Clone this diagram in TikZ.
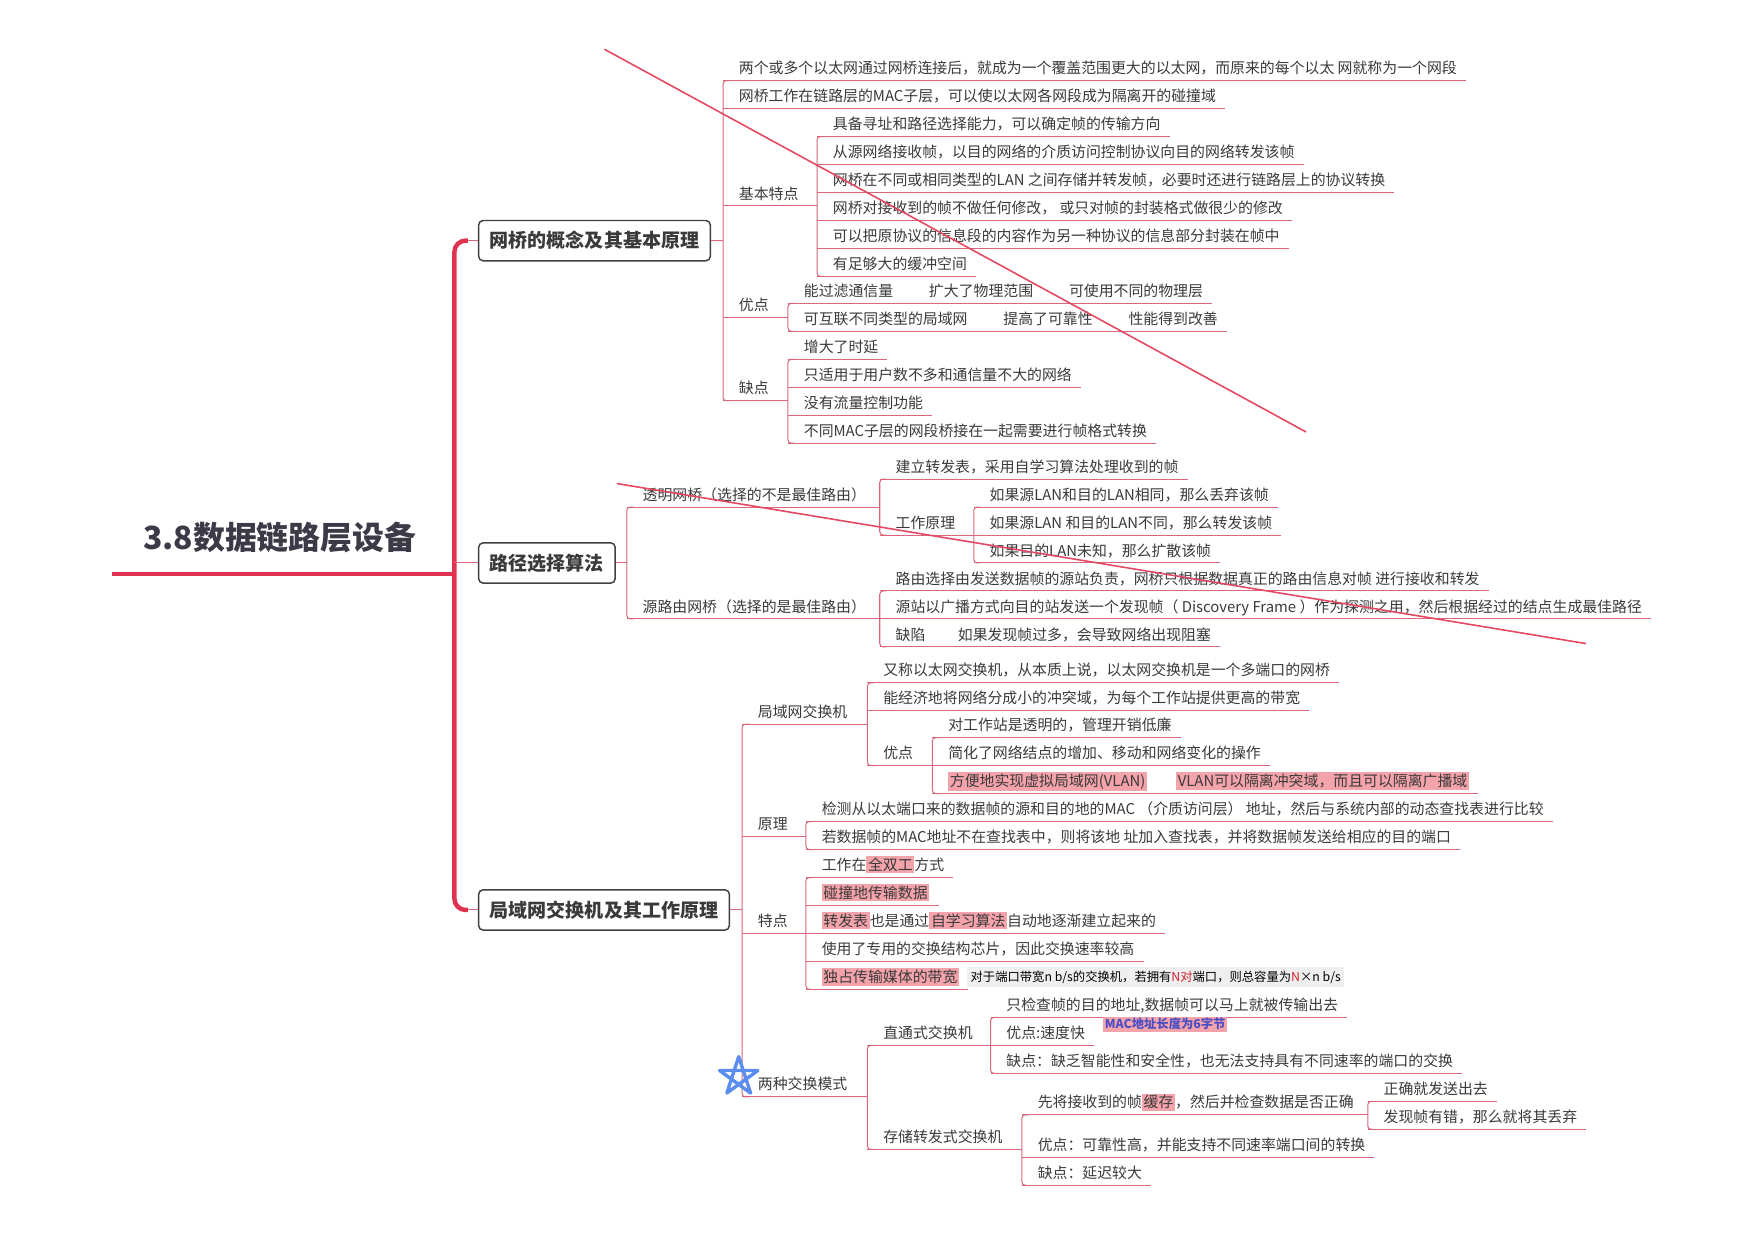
\documentclass[tikz,border=0pt]{standalone}
\usepackage{fontspec}
\setmainfont{Noto Sans CJK SC}
\usetikzlibrary{calc}
\definecolor{trunkred}{HTML}{E0334F}
\definecolor{twigred}{HTML}{D9667A}
\definecolor{ink}{HTML}{3A3A3A}
\definecolor{rootink}{HTML}{3B3B48}
\definecolor{boxline}{HTML}{404040}
\definecolor{hilite}{HTML}{F4A3AB}
\definecolor{starblue}{HTML}{5B8DEF}
\definecolor{notegray}{HTML}{EFEFEF}
\definecolor{notered}{HTML}{D0202E}
\definecolor{macblue}{HTML}{4B4FC4}
\newcommand{\hilit}[1]{{\setlength{\fboxsep}{1.5pt}\colorbox{hilite}{#1}}}
\tikzset{
  twig/.style={draw=twigred, line width=0.9pt},
  trunk/.style={draw=trunkred, line width=4pt},
  leaf/.style={anchor=south west, inner xsep=0pt, inner ysep=0pt, text depth=6pt,
    font=\fontsize{13.3}{16}\selectfont, text=ink,
    execute at begin node={\hspace*{14pt}}, execute at end node={\hspace*{8pt}},
    append after command={(\tikzlastnode.south west) edge[twig] (\tikzlastnode.south east)}},
  topic/.style={anchor=west, draw=boxline, line width=1.3pt, rounded corners=4pt,
    fill=white, text=ink, font=\fontsize{17}{20}\selectfont\bfseries,
    inner xsep=10pt, minimum height=36pt},
  root/.style={anchor=south, minimum width=300pt, inner ysep=0pt, text depth=22pt,
    text=rootink, font=\fontsize{28.5}{32}\selectfont\bfseries},
  strike/.style={draw=trunkred!90, line width=1.4pt},
  starline/.style={draw=starblue, line width=3pt, line join=round, line cap=round},
  capnote/.style={anchor=west, fill=notegray, inner sep=3pt, text=black,
    font=\fontsize{11}{13}\selectfont},
  macnote/.style={fill=hilite, inner sep=1.5pt, text=macblue,
    font=\fontsize{11}{13}\selectfont\bfseries}
}
\begin{document}
\begin{tikzpicture}[x=1pt, y=-1pt]
    \path[use as bounding box, fill=white] (0,0) rectangle (1568,1108);
    \coordinate (hub) at (406,513); \coordinate (star) at (660,962);
    \node[root] (root) at (250,513) {3.8数据链路层设备};
    \node[topic] (t1) at (427,215) {网桥的概念及其基本原理};
    \node[topic] (t2) at (427,503) {路径选择算法};
    \node[topic] (t3) at (427,813) {局域网交换机及其工作原理};
    \draw[trunk] (root.south west) -- (hub);
    \draw[trunk, rounded corners=10pt] (hub) |- ([xshift=-9pt]t1.west);
    \draw[trunk, rounded corners=10pt] (hub) |- ([xshift=-9pt]t3.west);
    \draw[twig] ([xshift=-9pt]t1.west) -- (t1.west);
    \draw[twig] ([xshift=-9pt]t3.west) -- (t3.west);
    \draw[twig] (hub |- t2.west) -- (t2.west);

    \node[leaf] (q1) at (646,72) {两个或多个以太网通过网桥连接后，就成为一个覆盖范围更大的以太网，而原来的每个以太 网就称为一个网段};
    \node[leaf] (q2) at (646,97) {网桥工作在链路层的MAC子层，可以使以太网各网段成为隔离开的碰撞域};
    \node[leaf] (q3) at (646,184) {基本特点};
    \node[leaf] (q4) at (646,284) {优点};
    \node[leaf] (q5) at (646,358) {缺点};
    \node[leaf] (f1) at (730,122) {具备寻址和路径选择能力，可以确定帧的传输方向};
    \node[leaf] (f2) at (730,147) {从源网络接收帧，以目的网络的介质访问控制协议向目的网络转发该帧};
    \node[leaf] (f3) at (730,172) {网桥在不同或相同类型的LAN 之间存储并转发帧，必要时还进行链路层上的协议转换};
    \node[leaf] (f4) at (730,197) {网桥对接收到的帧不做任何修改， 或只对帧的封装格式做很少的修改};
    \node[leaf] (f5) at (730,222) {可以把原协议的信息段的内容作为另一种协议的信息部分封装在帧中};
    \node[leaf] (f6) at (730,247) {有足够大的缓冲空间};
    \node[leaf] (g1) at (704,271) {能过滤通信量\hspace{32pt}扩大了物理范围\hspace{32pt}可使用不同的物理层};
    \node[leaf] (g2) at (704,296) {可互联不同类型的局域网\hspace{32pt}提高了可靠性\hspace{32pt}性能得到改善};
    \node[leaf] (h1) at (704,321) {增大了时延};
    \node[leaf] (h2) at (704,346) {只适用于用户数不多和通信量不大的网络};
    \node[leaf] (h3) at (704,371) {没有流量控制功能};
    \node[leaf] (h4) at (704,396) {不同MAC子层的网段桥接在一起需要进行帧格式转换};
    \draw[twig] (t1.east) -- (t1.east -| q1.south west);
    \draw[twig, rounded corners=3pt] ([xshift=6pt]q1.south west) -- (q1.south west) -- (q5.south west) -- ([xshift=6pt]q5.south west);
    \draw[twig] (q3.south west) -- (q3.south west -| f1.south west);
    \draw[twig, rounded corners=3pt] ([xshift=6pt]f1.south west) -- (f1.south west) -- (f6.south west) -- ([xshift=6pt]f6.south west);
    \draw[twig] (q4.south west) -- (q4.south west -| g1.south west);
    \draw[twig, rounded corners=3pt] ([xshift=6pt]g1.south west) -- (g1.south west) -- (g2.south west) -- ([xshift=6pt]g2.south west);
    \draw[twig] (q5.south west) -- (q5.south west -| h1.south west);
    \draw[twig, rounded corners=3pt] ([xshift=6pt]h1.south west) -- (h1.south west) -- (h4.south west) -- ([xshift=6pt]h4.south west);

    \node[leaf] (r1) at (560,453) {透明网桥（选择的不是最佳路由）};
    \node[leaf] (r2) at (560,553) {源路由网桥（选择的是最佳路由）};
    \node[leaf] (s1) at (786,428) {建立转发表，采用自学习算法处理收到的帧};
    \node[leaf] (s2) at (786,478) {工作原理};
    \node[leaf] (u1) at (870,453) {如果源LAN和目的LAN相同，那么丢弃该帧};
    \node[leaf] (u2) at (870,478) {如果源LAN 和目的LAN不同，那么转发该帧};
    \node[leaf] (u3) at (870,503) {如果目的LAN未知，那么扩散该帧};
    \node[leaf] (v1) at (786,528) {路由选择由发送数据帧的源站负责，网桥只根据数据真正的路由信息对帧 进行接收和转发};
    \node[leaf] (v2) at (786,553) {源站以广播方式向目的站发送一个发现帧（ Discovery Frame ）作为探测之用，然后根据经过的结点生成最佳路径};
    \node[leaf] (v3) at (786,578) {缺陷\hspace{29pt}如果发现帧过多，会导致网络出现阻塞};
    \draw[twig] (t2.east) -- (t2.east -| r1.south west);
    \draw[twig, rounded corners=3pt] ([xshift=6pt]r1.south west) -- (r1.south west) -- (r2.south west) -- ([xshift=6pt]r2.south west);
    \draw[twig] (r1.south west) -- (r1.south west -| s1.south west);
    \draw[twig, rounded corners=3pt] ([xshift=6pt]s1.south west) -- (s1.south west) -- (s2.south west) -- ([xshift=6pt]s2.south west);
    \draw[twig] (s2.south west) -- (s2.south west -| u1.south west);
    \draw[twig, rounded corners=3pt] ([xshift=6pt]u1.south west) -- (u1.south west) -- (u3.south west) -- ([xshift=6pt]u3.south west);
    \draw[twig] (r2.south west) -- (r2.south west -| v1.south west);
    \draw[twig, rounded corners=3pt] ([xshift=6pt]v1.south west) -- (v1.south west) -- (v3.south west) -- ([xshift=6pt]v3.south west);

    \node[leaf] (w1) at (663,647) {局域网交换机};
    \node[leaf] (w2) at (663,747) {原理};
    \node[leaf] (w3) at (663,834) {特点};
    \node[leaf] (w4) at (663,980) {两种交换模式};
    \node[leaf] (x1) at (775,610) {又称以太网交换机，从本质上说，以太网交换机是一个多端口的网桥};
    \node[leaf] (x2) at (775,635) {能经济地将网络分成小的冲突域，为每个工作站提供更高的带宽};
    \node[leaf] (x3) at (775,684) {优点};
    \node[leaf] (y1) at (833,659) {对工作站是透明的，管理开销低廉};
    \node[leaf] (y2) at (833,684) {简化了网络结点的增加、移动和网络变化的操作};
    \node[leaf] (y3) at (833,709) {\hilit{方便地实现虚拟局域网(VLAN)}\hspace{26pt}\hilit{VLAN可以隔离冲突域，而且可以隔离广播域}};
    \node[leaf] (z1) at (720,734) {检测从以太端口来的数据帧的源和目的地的MAC （介质访问层） 地址，然后与系统内部的动态查找表进行比较};
    \node[leaf] (z2) at (720,759) {若数据帧的MAC地址不在查找表中，则将该地 址加入查找表，并将数据帧发送给相应的目的端口};
    \node[leaf] (k1) at (720,784) {工作在\hilit{全双工}方式};
    \node[leaf] (k2) at (720,809) {\hilit{碰撞地传输数据}};
    \node[leaf] (k3) at (720,834) {\hilit{转发表}也是通过\hilit{自学习算法}自动地逐渐建立起来的};
    \node[leaf] (k4) at (720,859) {使用了专用的交换结构芯片，因此交换速率较高};
    \node[leaf] (k5) at (720,884) {\hilit{独占传输媒体的带宽}};
    \node[capnote] (capnote) at (864,873) {对于端口带宽n b/s的交换机，若拥有{\color{notered}N对}端口，则总容量为{\color{notered}N}×n b/s};
    \node[leaf] (m1) at (775,934) {直通式交换机};
    \node[leaf] (m2) at (775,1027) {存储转发式交换机};
    \node[leaf] (n1) at (885,909) {只检查帧的目的地址,数据帧可以马上就被传输出去};
    \node[leaf] (n2) at (885,934) {优点:速度快};
    \node[leaf] (n3) at (885,959) {缺点：缺乏智能性和安全性，也无法支持具有不同速率的端口的交换};
    \node[macnote] (macnote) at (1041,915) {MAC地址长度为6字节};
    \node[leaf] (p1) at (913,996) {先将接收到的帧\hilit{缓存}，然后并检查数据是否正确};
    \node[leaf] (p2) at (913,1034) {优点：可靠性高，并能支持不同速率端口间的转换};
    \node[leaf] (p3) at (913,1059) {缺点：延迟较大};
    \node[leaf] (o1) at (1222,984) {正确就发送出去};
    \node[leaf] (o2) at (1222,1009) {发现帧有错，那么就将其丢弃};
    \draw[twig] (t3.east) -- (t3.east -| w1.south west);
    \draw[twig, rounded corners=3pt] ([xshift=6pt]w1.south west) -- (w1.south west) -- (w4.south west) -- ([xshift=6pt]w4.south west);
    \draw[twig] (w1.south west) -- (w1.south west -| x1.south west);
    \draw[twig, rounded corners=3pt] ([xshift=6pt]x1.south west) -- (x1.south west) -- (x3.south west) -- ([xshift=6pt]x3.south west);
    \draw[twig] (x3.south west) -- (x3.south west -| y1.south west);
    \draw[twig, rounded corners=3pt] ([xshift=6pt]y1.south west) -- (y1.south west) -- (y3.south west) -- ([xshift=6pt]y3.south west);
    \draw[twig] (w2.south west) -- (w2.south west -| z1.south west);
    \draw[twig, rounded corners=3pt] ([xshift=6pt]z1.south west) -- (z1.south west) -- (z2.south west) -- ([xshift=6pt]z2.south west);
    \draw[twig] (w3.south west) -- (w3.south west -| k1.south west);
    \draw[twig, rounded corners=3pt] ([xshift=6pt]k1.south west) -- (k1.south west) -- (k5.south west) -- ([xshift=6pt]k5.south west);
    \draw[twig] (w4.south west) -- (w4.south west -| m1.south west);
    \draw[twig, rounded corners=3pt] ([xshift=6pt]m1.south west) -- (m1.south west) -- (m2.south west) -- ([xshift=6pt]m2.south west);
    \draw[twig] (m1.south west) -- (m1.south west -| n1.south west);
    \draw[twig, rounded corners=3pt] ([xshift=6pt]n1.south west) -- (n1.south west) -- (n3.south west) -- ([xshift=6pt]n3.south west);
    \draw[twig] (m2.south west) -- (m2.south west -| p1.south west);
    \draw[twig, rounded corners=3pt] ([xshift=6pt]p1.south west) -- (p1.south west) -- (p3.south west) -- ([xshift=6pt]p3.south west);
    \draw[twig] (p1.south west) -- (p1.south west -| o1.south west);
    \draw[twig, rounded corners=3pt] ([xshift=6pt]o1.south west) -- (o1.south west) -- (o2.south west) -- ([xshift=6pt]o2.south west);

    \draw[starline] ([shift={(-90:18)}]star) -- ([shift={(126:18)}]star) -- ([shift={(-18:18)}]star)
      -- ([shift={(198:18)}]star) -- ([shift={(54:18)}]star) -- cycle;
    \draw[strike] (540,44) -- (1167,386);
    \draw[strike] (551,432) -- (1417,575);
  \end{tikzpicture}
\end{document}
